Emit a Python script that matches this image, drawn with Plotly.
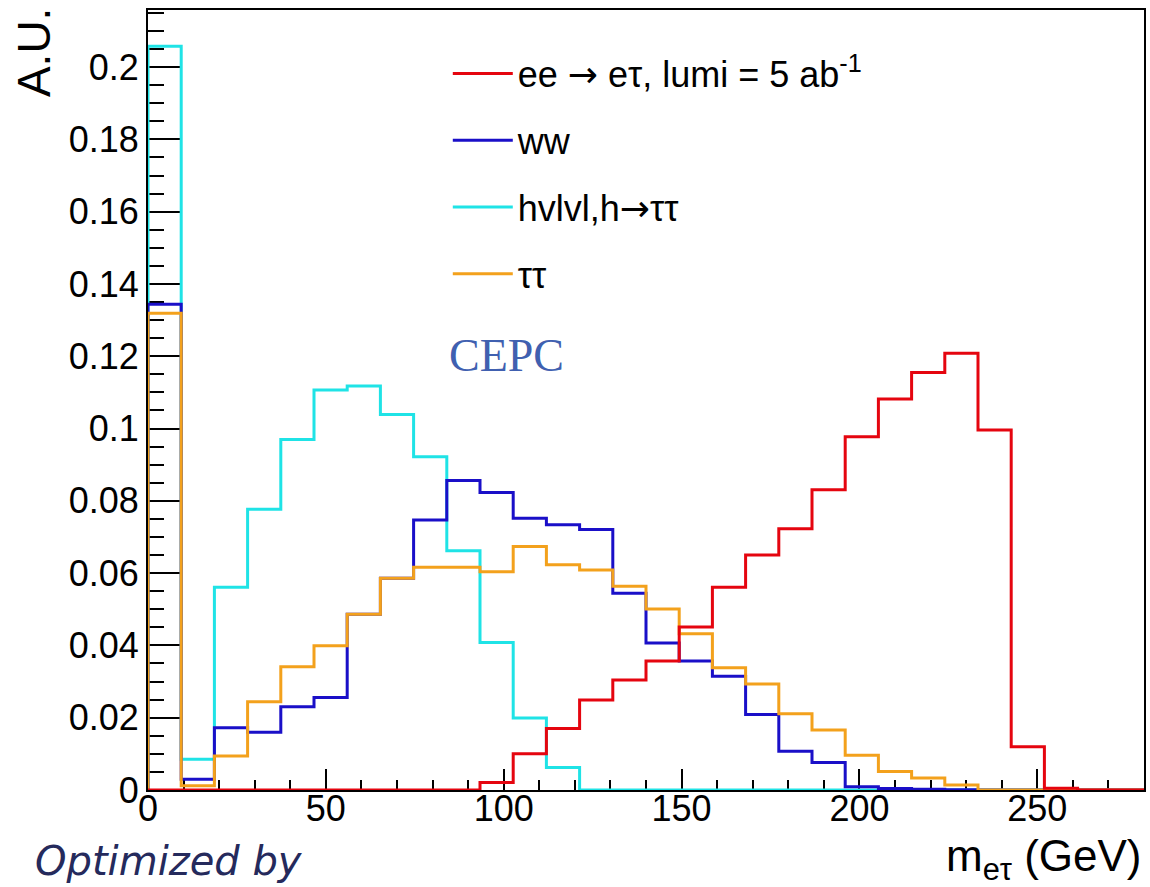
import numpy as np
import plotly.graph_objects as go

# ---------------- data ----------------
X_MIN, X_MAX, N_BINS = 0, 280, 30
bin_edges = np.linspace(X_MIN, X_MAX, N_BINS + 1)

signal_etau = [0, 0, 0, 0, 0, 0, 0, 0, 0, 0,
               0.0021, 0.0100, 0.0170, 0.0249, 0.0304, 0.0357, 0.0451, 0.0561, 0.0650, 0.0723,
               0.0831, 0.0977, 0.1082, 0.1155, 0.1208, 0.0996, 0.0120, 0.0005, 0, 0]
bkg_ww = [0.1344, 0.0030, 0.0172, 0.0160, 0.0230, 0.0256, 0.0486, 0.0586, 0.0747, 0.0856,
          0.0823, 0.0752, 0.0734, 0.0721, 0.0544, 0.0407, 0.0357, 0.0315, 0.0209, 0.0107,
          0.0076, 0.0009, 0.0004, 0.0002, 0.0001, 0, 0, 0, 0, 0]
bkg_hvv = [0.2058, 0.0085, 0.0561, 0.0777, 0.0970, 0.1107, 0.1118, 0.1039, 0.0922, 0.0662,
           0.0408, 0.0199, 0.0062, 0, 0, 0, 0, 0, 0, 0,
           0, 0, 0, 0, 0, 0, 0, 0, 0, 0]
bkg_tautau = [0.1319, 0.0012, 0.0094, 0.0244, 0.0341, 0.0399, 0.0486, 0.0586, 0.0616, 0.0616,
              0.0604, 0.0674, 0.0623, 0.0609, 0.0564, 0.0501, 0.0432, 0.0338, 0.0293, 0.0211,
              0.0166, 0.0096, 0.0051, 0.0033, 0.0014, 0, 0, 0, 0, 0]

y_tickvals = [0, 0.02, 0.04, 0.06, 0.08, 0.1, 0.12, 0.14, 0.16, 0.18, 0.2]
y_ticktext = ["0", "0.02", "0.04", "0.06", "0.08", "0.1", "0.12", "0.14", "0.16", "0.18", "0.2"]
x_tickvals = [0, 50, 100, 150, 200, 250]
x_ticktext = ["0", "50", "100", "150", "200", "250"]

ARROW = "<span style='font-family:DejaVu Sans'>→</span>"
series = [
    # (name, values, colour, legend rank) -- drawing order: cyan, blue, orange, red
    ("hvlvl,h" + ARROW + "ττ", bkg_hvv, "#1fe3e6", 3),
    ("ww", bkg_ww, "#1a0fc8", 2),
    ("ττ", bkg_tautau, "#f3a11c", 4),
    ("ee " + ARROW + " eτ, lumi = 5 ab<sup>-1</sup>", signal_etau, "#e5050f", 1),
]

FONT = "Liberation Sans, Arial, sans-serif"
FS = 36

fig = go.Figure()
for i, (name, vals, col, rank) in enumerate(series):
    xs = np.concatenate([[bin_edges[0]], bin_edges])
    ys = np.concatenate([[0], vals, [vals[-1]]])
    fig.add_trace(go.Scatter(
        x=xs, y=ys, mode="lines", line=dict(shape="hv", color=col, width=3),
        name=name, legendrank=rank, legendgroup=f"g{rank}", hoverinfo="skip",
    ))

axis_common = dict(
    showline=True, linecolor="black", linewidth=2, mirror=True,
    ticks="inside", tickcolor="black", tickwidth=2,
    showgrid=False, zeroline=False, layer="below traces",
    tickfont=dict(family=FONT, size=FS, color="black"),
)

fig.update_xaxes(
    range=[X_MIN, X_MAX], tickvals=x_tickvals, ticktext=x_ticktext, ticklen=21,
    minor=dict(ticks="inside", ticklen=10, dtick=10, tickcolor="black", tickwidth=2, showgrid=False),
    ticklabelstandoff=-14, **axis_common,
)
fig.update_yaxes(
    range=[0, 0.2158], tickvals=y_tickvals, ticktext=y_ticktext, ticklen=32,
    minor=dict(ticks="inside", ticklen=16, dtick=0.005, tickcolor="black", tickwidth=2, showgrid=False),
    ticklabelstandoff=0, **axis_common,
)

fig.update_layout(
    width=1150, height=887, autosize=False,
    margin=dict(l=148, r=4, t=10, b=97),
    paper_bgcolor="white", plot_bgcolor="white",
    showlegend=True,
    legend=dict(x=0.301, y=0.957, xanchor="left", yanchor="top",
                font=dict(family=FONT, size=FS, color="black"),
                bgcolor="rgba(0,0,0,0)", borderwidth=0, tracegroupgap=17,
                itemwidth=60, traceorder="grouped"),
    annotations=[
        dict(text="A.U.", xref="paper", yref="paper", x=-0.115, y=1.005,
             xanchor="center", yanchor="top", textangle=-90, showarrow=False,
             font=dict(family=FONT, size=46, color="black")),
        dict(text="m<sub>eτ</sub> (GeV)", xref="paper", yref="paper", x=1.0, y=-0.05,
             xanchor="right", yanchor="top", showarrow=False,
             font=dict(family=FONT, size=44, color="black")),
        dict(text="CEPC", xref="paper", yref="paper", x=0.3, y=0.557,
             xanchor="left", yanchor="middle", showarrow=False,
             font=dict(family="Liberation Serif, serif", size=46, color="#4060b0")),
        dict(text="<i>Optimized by</i>", xref="paper", yref="paper", x=-0.115, y=-0.1235,
             xanchor="left", yanchor="bottom", showarrow=False,
             font=dict(family="DejaVu Sans, sans-serif", size=40, color="#252a5c")),
    ],
)

fig.write_html("out.html")
